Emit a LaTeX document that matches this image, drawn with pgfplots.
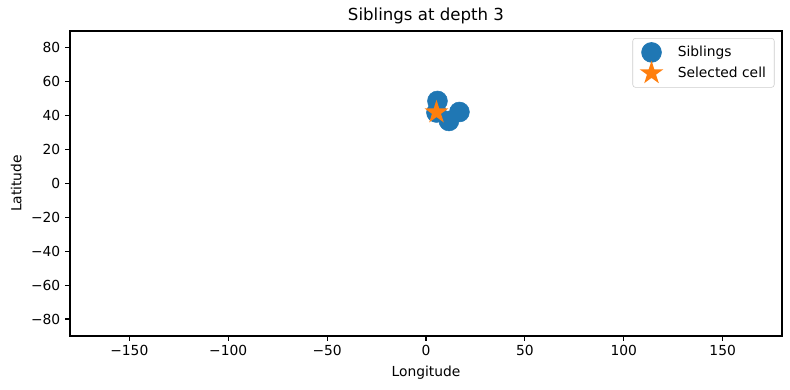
\documentclass[border=0pt]{standalone}
\usepackage{fontspec}
\setmainfont{DejaVu Sans}
\usepackage{pgfplots}
\pgfplotsset{compat=1.18}
\definecolor{c0}{HTML}{1F77B4}
\definecolor{c1}{HTML}{FF7F0E}
\pgfdeclareplotmark{fstar}{%
  \pgfpathmoveto{\pgfpointpolar{90}{\pgfplotmarksize}}%
  \pgfpathlineto{\pgfpointpolar{126}{0.382\pgfplotmarksize}}%
  \pgfpathlineto{\pgfpointpolar{162}{\pgfplotmarksize}}%
  \pgfpathlineto{\pgfpointpolar{198}{0.382\pgfplotmarksize}}%
  \pgfpathlineto{\pgfpointpolar{234}{\pgfplotmarksize}}%
  \pgfpathlineto{\pgfpointpolar{270}{0.382\pgfplotmarksize}}%
  \pgfpathlineto{\pgfpointpolar{306}{\pgfplotmarksize}}%
  \pgfpathlineto{\pgfpointpolar{342}{0.382\pgfplotmarksize}}%
  \pgfpathlineto{\pgfpointpolar{18}{\pgfplotmarksize}}%
  \pgfpathlineto{\pgfpointpolar{54}{0.382\pgfplotmarksize}}%
  \pgfpathclose
  \pgfusepathqfill}
\begin{document}
\begin{tikzpicture}
\begin{axis}[
  name=ax,
  scale only axis,
  width=7.12in, height=3.05in,
  xmin=-180, xmax=180, ymin=-90, ymax=90,
  xtick={-150,-100,-50,0,50,100,150},
  xticklabels={−150,−100,−50,0,50,100,150},
  ytick={-80,-60,-40,-20,0,20,40,60,80},
  yticklabels={−80,−60,−40,−20,0,20,40,60,80},
  tick align=outside,
  tick style={black, line width=0.8pt},
  major tick length=3.5pt,
  xtick pos=bottom, ytick pos=left,
  axis line style={line width=0.8pt},
  tick label style={font=\fontsize{10}{12}\selectfont},
  label style={font=\fontsize{10}{12}\selectfont},
  title style={font=\fontsize{12}{14}\selectfont, yshift=-4.5pt},
  title={Siblings at depth 3},
  xlabel={Longitude}, ylabel={Latitude},
  legend style={at={(0.9895,0.977)}, anchor=north east, draw=black!20, rounded corners=2pt,
    font=\fontsize{10}{12}\selectfont, row sep=-1.2pt, inner xsep=5pt, inner ysep=3pt,
    nodes={inner xsep=1pt},
    /tikz/every odd column/.append style={column sep=9.4pt}},
  legend cell align=left,
]
\addplot[only marks, mark=*, mark size=7.2pt, c0, mark options={draw=c0, fill=c0}] coordinates {
  (5.8,48.7) (16.9,42.2) (11.6,36.9) (5.3,41.9)
};
\addlegendentry{Siblings}
\addplot[only marks, mark=fstar, mark size=9pt, c1, mark options={fill=c1}] coordinates {(5.3,42.0)};
\addlegendentry{Selected cell}
\end{axis}
\pgfresetboundingbox
\path (ax.south west) ++(-0.70in,-0.54in) coordinate (bl);
\path (ax.north east) ++(0.08in,0.31in) coordinate (tr);
\useasboundingbox (bl) rectangle (tr);
\end{tikzpicture}
\end{document}
